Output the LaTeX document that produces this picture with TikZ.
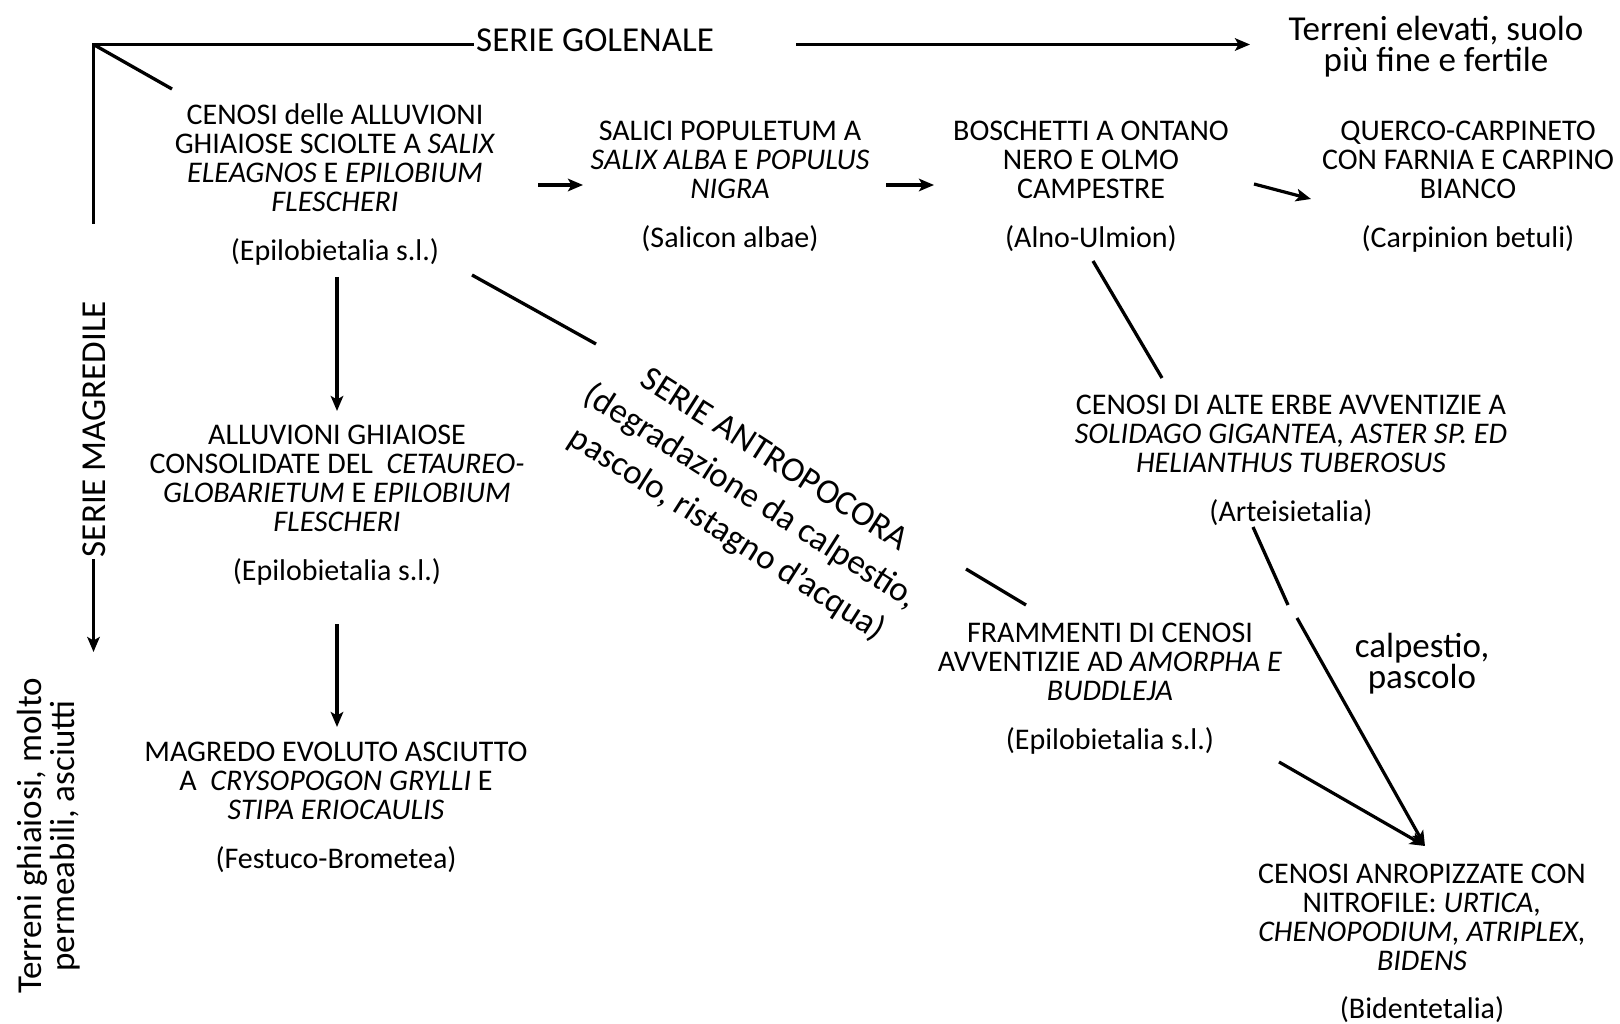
\documentclass[tikz,border=0pt]{standalone}
\usepackage{fontspec}
\setmainfont{Carlito}
\usetikzlibrary{arrows.meta}
\newcommand\firstln{\rule{0pt}{22pt}}
\newcommand\firstbig{\rule{0pt}{26pt}}
\begin{document}
\begin{tikzpicture}[x=1pt,y=-1pt,
  veg/.style={align=center, inner sep=0pt, anchor=north, font=\fontsize{30}{29.2}\selectfont},
  big/.style={align=center, inner sep=0pt, font=\fontsize{35}{31}\selectfont},
  ln/.style={line width=3.3pt},
  arr/.style={line width=3.2pt, -{Stealth[length=15pt,width=12.5pt,inset=3.5pt]}}]
\useasboundingbox[fill=white] (0,0) rectangle (1620,1024);

% vegetation nodes
\node[veg] (n1) at (335,102) {\firstln CENOSI delle ALLUVIONI\\GHIAIOSE SCIOLTE A \textit{SALIX}\\\textit{ELEAGNOS} E \textit{EPILOBIUM}\\\textit{FLESCHERI}\\[19.5pt](Epilobietalia s.l.)};
\node[veg] (n2) at (730,118) {\firstln SALICI POPULETUM A\\\textit{SALIX ALBA} E \textit{POPULUS}\\\textit{NIGRA}\\[19.5pt](Salicon albae)};
\node[veg] (n3) at (1091,118) {\firstln BOSCHETTI A ONTANO\\NERO E OLMO\\CAMPESTRE\\[19.5pt](Alno-Ulmion)};
\node[veg] (n4) at (1468,118) {\firstln QUERCO-CARPINETO\\CON FARNIA E CARPINO\\BIANCO\\[19.5pt](Carpinion betuli)};
\node[veg] (n5) at (337,422) {\firstln ALLUVIONI GHIAIOSE\\CONSOLIDATE DEL\ \ \textit{CETAUREO-}\\\textit{GLOBARIETUM} E \textit{EPILOBIUM}\\\textit{FLESCHERI}\\[19.5pt](Epilobietalia s.l.)};
\node[veg] (n6) at (1291,392) {\firstln CENOSI DI ALTE ERBE AVVENTIZIE A\\\textit{SOLIDAGO GIGANTEA, ASTER SP. ED}\\\textit{HELIANTHUS TUBEROSUS}\\[19.5pt](Arteisietalia)};
\node[veg] (n7) at (1110,620) {\firstln FRAMMENTI DI CENOSI\\AVVENTIZIE AD \textit{AMORPHA E}\\\textit{BUDDLEJA}\\[19.5pt](Epilobietalia s.l.)};
\node[veg] (n8) at (1422,861) {\firstln CENOSI ANROPIZZATE CON\\NITROFILE: \textit{URTICA,}\\\textit{CHENOPODIUM, ATRIPLEX,}\\\textit{BIDENS}\\[18.5pt](Bidentetalia)};
\node[veg] (n9) at (336,739) {\firstln MAGREDO EVOLUTO ASCIUTTO\\A\ \ \textit{CRYSOPOGON GRYLLI} E\\\textit{STIPA ERIOCAULIS}\\[19.5pt](Festuco-Brometea)};

% series labels
\node[big, anchor=base west] (gol) at (476,52) {SERIE GOLENALE};
\node[big, anchor=north] (te) at (1436,14) {\firstbig Terreni elevati, suolo\\più fine e fertile};
\node[big, rotate=90] (mag) at (94,429) {SERIE MAGREDILE};
\node[big, font=\fontsize{35}{33}\selectfont, rotate=90] (tg) at (49,836) {Terreni ghiaiosi, molto\\permeabili, asciutti};
\node[big, font=\fontsize{35}{44}\selectfont, rotate=-32.5] (ant) at (750,498) {SERIE ANTROPOCORA\\(degradazione da calpestio,\\pascolo, ristagno d’acqua)};
\node[big, anchor=north] (cp) at (1422,631) {\firstbig calpestio,\\pascolo};

% connector end points
\coordinate (c0) at (93.5,44.5);
\coordinate (d1) at (172,89);
\coordinate (g0) at (474,44.5);
\coordinate (v1) at (93.5,224);
\coordinate (m0) at (93.5,559);
\coordinate (m1) at (93.5,652);
\coordinate (g1) at (796,44.5);
\coordinate (g2) at (1250,44.5);
\coordinate (a12s) at (538,185);
\coordinate (a12e) at (583,185);
\coordinate (a23s) at (886,185);
\coordinate (a23e) at (934,185);
\coordinate (a34s) at (1254,184);
\coordinate (a34e) at (1311,199);
\coordinate (a15s) at (337,277);
\coordinate (a15e) at (337,411);
\coordinate (a59s) at (337,624);
\coordinate (a59e) at (337,727);
\coordinate (t1s) at (472,275);
\coordinate (t1e) at (596,344);
\coordinate (t2s) at (966,569);
\coordinate (t2e) at (1026,605);
\coordinate (a36s) at (1093,261);
\coordinate (a36e) at (1162,378);
\coordinate (a68s) at (1253,527);
\coordinate (a68m) at (1288,605);
\coordinate (a68n) at (1297,618);
\coordinate (tip8) at (1425,846);
\coordinate (a78s) at (1279,762);

% connectors
\draw[ln, line join=miter] (v1) -- (c0) -- (g0);
\draw[ln] (c0) -- (d1);
\draw[arr] (m0) -- (m1);
\draw[arr] (g1) -- (g2);
\draw[arr] (a12s) -- (a12e);
\draw[arr] (a23s) -- (a23e);
\draw[arr] (a34s) -- (a34e);
\draw[arr] (a15s) -- (a15e);
\draw[arr] (a59s) -- (a59e);
\draw[ln] (t1s) -- (t1e);
\draw[ln] (t2s) -- (t2e);
\draw[ln] (a36s) -- (a36e);
\draw[ln] (a68s) -- (a68m);
\draw[arr] (a68n) -- (tip8);
\draw[arr] (a78s) -- (tip8);
\end{tikzpicture}
\end{document}
